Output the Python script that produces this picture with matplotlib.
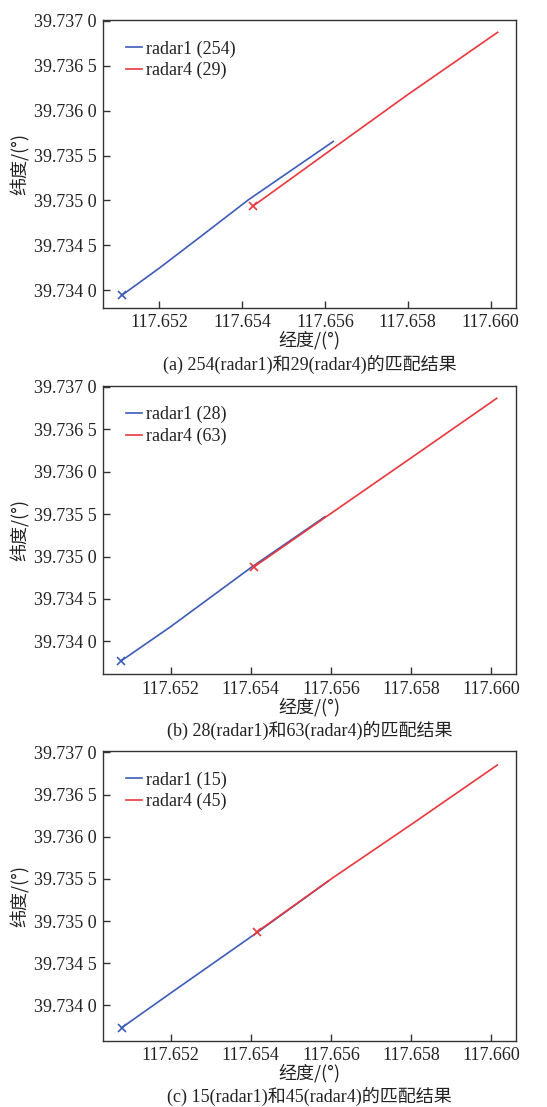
import matplotlib
matplotlib.use("Agg")
import matplotlib.pyplot as plt
from matplotlib.ticker import FixedLocator, FuncFormatter

# ---------------- data ----------------
captions = ["(a) 254(radar1)和29(radar4)的匹配结果",
            "(b) 28(radar1)和63(radar4)的匹配结果",
            "(c) 15(radar1)和45(radar4)的匹配结果"]
labels_r1 = ["radar1 (254)", "radar1 (28)", "radar1 (15)"]
labels_r4 = ["radar4 (29)", "radar4 (63)", "radar4 (45)"]

a_r1_lon = [117.65109, 117.652000, 117.652982, 117.65415, 117.65620]
a_r1_lat = [39.733944, 39.734248, 39.734593, 39.735007, 39.735656]
a_r4_lon = [117.65425, 117.65620, 117.65799, 117.66017]
a_r4_lat = [39.734933, 39.735581, 39.736174, 39.736870]

b_r1_lon = [117.65076, 117.652000, 117.654014, 117.655853]
b_r1_lat = [39.733768, 39.734173, 39.734873, 39.735470]
b_r4_lon = [117.65409, 117.656003, 117.65801, 117.66014]
b_r4_lat = [39.734881, 39.735509, 39.736166, 39.736866]

c_r1_lon = [117.650777, 117.652000, 117.654164, 117.655937]
c_r1_lat = [39.733735, 39.734146, 39.734866, 39.735474]
c_r4_lon = [117.654164, 117.656003, 117.65801, 117.660156]
c_r4_lat = [39.734874, 39.735498, 39.736146, 39.736850]

r1_lons = [a_r1_lon, b_r1_lon, c_r1_lon]
r1_lats = [a_r1_lat, b_r1_lat, c_r1_lat]
r4_lons = [a_r4_lon, b_r4_lon, c_r4_lon]
r4_lats = [a_r4_lat, b_r4_lat, c_r4_lat]

xticks = [117.652, 117.654, 117.656, 117.658, 117.660]
yticks = [39.7340, 39.7345, 39.7350, 39.7355, 39.7360, 39.7365, 39.7370]
ytick_labels = ["39.734 0", "39.734 5", "39.735 0", "39.735 5",
                "39.736 0", "39.736 5", "39.737 0"]

xlims = [(117.650639, 117.660607), (117.650310, 117.660614), (117.650310, 117.660614)]
ylims = [(39.733804, 39.737007), (39.733611, 39.737015), (39.733581, 39.737016)]

# ---------------- style ----------------
BLUE = "#3c5cb8"
RED = "#e8383d"
SERIF = ["Liberation Serif", "Noto Sans CJK SC"]
CJK = ["Noto Sans CJK SC", "Liberation Serif"]
FS = 13
plt.rcParams["font.family"] = SERIF
plt.rcParams["font.size"] = FS

fig = plt.figure(figsize=(5.47, 11.07), dpi=100)
W, H = 547, 1107
boxes = [(103, 20, 515.7, 308), (103, 385.7, 515.7, 674.3), (103, 751, 515.7, 1040.7)]

for i, (l, t, r, b) in enumerate(boxes):
    ax = fig.add_axes([l / W, 1 - b / H, (r - l) / W, (b - t) / H])
    ax.plot(r1_lons[i], r1_lats[i], color=BLUE, lw=1.2, label=labels_r1[i])
    ax.plot(r4_lons[i], r4_lats[i], color=RED, lw=1.2, label=labels_r4[i])
    ax.plot(r1_lons[i][0], r1_lats[i][0], marker="x", color=BLUE, ms=6, mew=1.2)
    ax.plot(r4_lons[i][0], r4_lats[i][0], marker="x", color=RED, ms=6, mew=1.2)
    ax.set_xlim(*xlims[i])
    ax.set_ylim(*ylims[i])
    ax.xaxis.set_major_locator(FixedLocator(xticks))
    ax.xaxis.set_major_formatter(FuncFormatter(lambda v, p: f"{v:.3f}"))
    ax.set_yticks(yticks)
    ax.set_yticklabels(ytick_labels)
    ax.tick_params(direction="in", length=5, width=1, colors="#333333",
                   labelcolor="#222222", labelsize=FS, pad=4.5)
    for s in ax.spines.values():
        s.set_color("#333333")
        s.set_linewidth(1.0)
    for lab in ax.get_xticklabels() + ax.get_yticklabels():
        lab.set_family(SERIF)
    ax.set_xlabel("经度/(°)", family=CJK, fontsize=FS, color="#222222", labelpad=0)
    ax.set_ylabel("纬度/(°)", family=CJK, fontsize=FS, color="#222222", labelpad=3)
    leg = ax.legend(loc="upper left", frameon=False, fontsize=FS,
                    handlelength=0.9, handletextpad=0.25, labelspacing=0.25,
                    borderaxespad=0.4, bbox_to_anchor=(0.02, 0.98))
    for txt in leg.get_texts():
        txt.set_color("#222222")
    cy = b + 56
    fig.text((l + r) / 2 / W, 1 - cy / H, captions[i], ha="center", va="center",
             family=["Liberation Serif", "Noto Sans CJK SC"], fontsize=FS, color="#222222")

fig.savefig("out.png", dpi=100)
